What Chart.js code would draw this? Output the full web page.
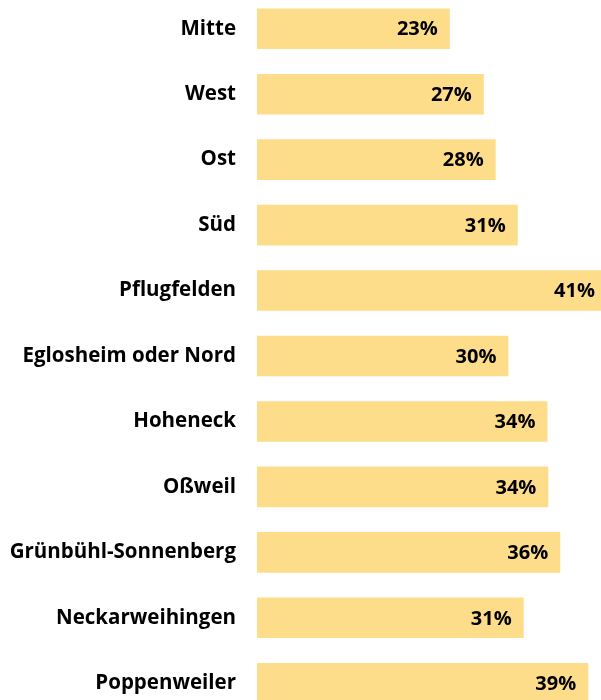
<!DOCTYPE html>
<html>
<head>
<meta charset="utf-8">
<script src="https://cdn.jsdelivr.net/npm/chart.js@4/dist/chart.umd.min.js"></script>
<style>
  html, body { margin: 0; padding: 0; background: #fff; overflow: hidden; }
  #chart { position: absolute; left: 0; top: -4px; }
</style>
</head>
<body>
<canvas id="chart" width="601" height="720"></canvas>
<script>
// Stadtteile und Anteile (in Prozent)
const districts = [
  'Mitte', 'West', 'Ost', 'Süd', 'Pflugfelden', 'Eglosheim oder Nord',
  'Hoheneck', 'Oßweil', 'Grünbühl-Sonnenberg', 'Neckarweihingen', 'Poppenweiler'
];
const shares = [22.7, 26.7, 28.1, 30.7, 41.2, 29.6, 34.2, 34.3, 35.7, 31.4, 39.0];

const barColor = '#fedd8a';
const fontFamily = '"Open Sans", "DejaVu Sans", sans-serif';

// Werte am Balkenende schreiben
const valueLabels = {
  id: 'valueLabels',
  afterDatasetsDraw(chart) {
    const ctx = chart.ctx;
    const meta = chart.getDatasetMeta(0);
    ctx.save();
    ctx.font = 'bold 20px ' + fontFamily;
    ctx.fillStyle = '#000';
    ctx.textAlign = 'right';
    ctx.textBaseline = 'middle';
    meta.data.forEach((bar, i) => {
      ctx.fillText(Math.round(shares[i]) + '%', bar.x - 12, bar.y + 1);
    });
    ctx.restore();
  }
};

new Chart(document.getElementById('chart'), {
  type: 'bar',
  data: {
    labels: districts,
    datasets: [{
      data: shares,
      backgroundColor: barColor,
      borderWidth: 0,
      barPercentage: 0.62,
      categoryPercentage: 1,
      clip: false
    }]
  },
  options: {
    indexAxis: 'y',
    responsive: false,
    animation: false,
    layout: { padding: 0 },
    plugins: {
      legend: { display: false },
      tooltip: { enabled: false }
    },
    scales: {
      x: {
        display: false,
        min: 0,
        max: 40.5
      },
      y: {
        grid: { display: false, drawTicks: false },
        border: { display: false },
        ticks: {
          color: '#000',
          padding: 21,
          font: { family: fontFamily, size: 20.5, weight: 'bold' }
        },
        afterFit(scale) {
          scale.width = 257;
          scale.paddingTop = 0;
          scale.paddingBottom = 0;
        }
      }
    }
  },
  plugins: [valueLabels]
});
</script>
</body>
</html>
